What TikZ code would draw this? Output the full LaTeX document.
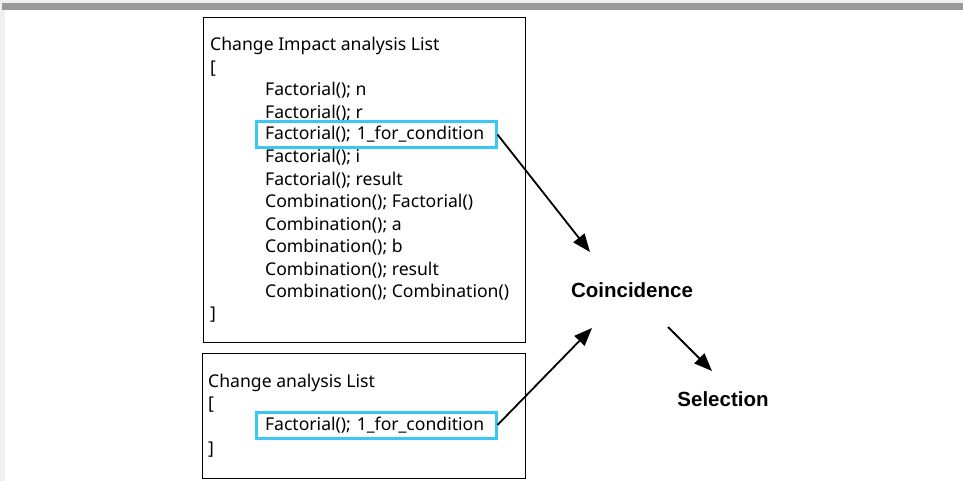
\documentclass[tikz,border=0pt]{standalone}
\usepackage{fontspec}
\setmainfont{Noto Sans}
\newfontfamily\labelfont{Liberation Sans}
\usetikzlibrary{arrows.meta}
\definecolor{hlcyan}{HTML}{38C8F2}
\definecolor{barGray}{HTML}{999999}
\definecolor{edgeGray}{HTML}{F0F0F0}
\tikzset{
  listbox/.style={draw=black, line width=0.9pt},
  txt/.style={anchor=base west, inner sep=0pt, font=\fontsize{17.6}{20}\selectfont},
  hlbox/.style={draw=hlcyan, line width=3pt, minimum width=240pt, minimum height=26pt,
    inner xsep=9pt, inner ysep=0pt, text width=222pt, align=left,
    font=\fontsize{17.6}{20}\selectfont},
  label/.style={inner sep=0pt, font=\labelfont\bfseries\fontsize{20.5}{24}\selectfont},
  flow/.style={line width=1.8pt, -{Triangle[length=18pt,width=14pt]}}
}
\begin{document}
\begin{tikzpicture}[x=1pt,y=-1pt]
  % page frame
  \fill[white] (0,0) rectangle (963,481);
  \useasboundingbox (0,0) rectangle (963,481);
  \fill[edgeGray] (0,0) rectangle (963,3);
  \fill[edgeGray] (0,0) rectangle (4.7,481);
  \fill[barGray] (2.3,3) rectangle (963,10.3);

  % impact list
  \draw[listbox] (203.5,17.5) rectangle (525,342.5);
  \node[txt] (t0) at (210,51) {Change Impact analysis List};
  \node[txt] (t1) at (210,73.4) {[};
  \node[txt] (t2) at (265,95.8) {Factorial(); n};
  \node[txt] (t3) at (265,118.2) {Factorial(); r};
  \node[hlbox] (h1) at (376,134.5) {Factorial(); 1\_for\_condition};
  \node[txt] (t5) at (265,163.0) {Factorial(); i};
  \node[txt] (t6) at (265,185.4) {Factorial(); result};
  \node[txt] (t7) at (265,207.8) {Combination(); Factorial()};
  \node[txt] (t8) at (265,230.2) {Combination(); a};
  \node[txt] (t9) at (265,252.6) {Combination(); b};
  \node[txt] (t10) at (265,275.0) {Combination(); result};
  \node[txt] (t11) at (265,297.4) {Combination(); Combination()};
  \node[txt] (t12) at (210,319.8) {]};

  % change list
  \draw[listbox] (202,353.5) rectangle (525,478);
  \node[txt] (u0) at (208,387) {Change analysis List};
  \node[txt] (u1) at (208,409.5) {[};
  \node[hlbox] (h2) at (376,425) {Factorial(); 1\_for\_condition};
  \node[txt] (u3) at (208,454.5) {]};

  % result labels
  \node[label] (coin) at (632,290) {Coincidence};
  \node[label] (sel) at (723,399) {Selection};

  \coordinate (inA) at (590,252);
  \coordinate (inB) at (592,328);
  \coordinate (outA) at (668,327);
  \coordinate (inS) at (712,371);

  \draw[flow] (h1.east) -- (inA);
  \draw[flow] (h2.east) -- (inB);
  \draw[flow] (outA) -- (inS);
\end{tikzpicture}
\end{document}
